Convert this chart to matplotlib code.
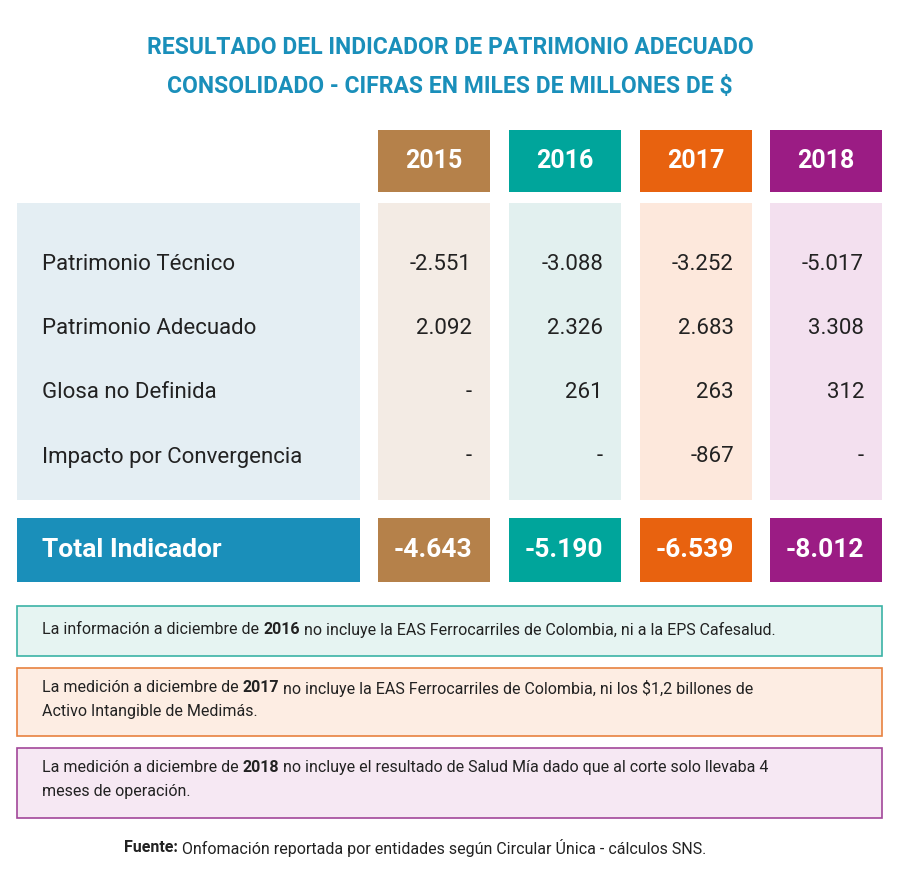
import matplotlib.pyplot as plt
from matplotlib.patches import Rectangle

plt.rcParams['font.family'] = ['Roboto', 'DejaVu Sans']

title_lines = ["RESULTADO DEL INDICADOR DE PATRIMONIO ADECUADO",
               "CONSOLIDADO - CIFRAS EN MILES DE MILLONES DE $"]
years = ["2015", "2016", "2017", "2018"]
row_labels = ["Patrimonio Técnico", "Patrimonio Adecuado", "Glosa no Definida",
              "Impacto por Convergencia"]
values = [["-2.551", "-3.088", "-3.252", "-5.017"],
          ["2.092", "2.326", "2.683", "3.308"],
          ["-", "261", "263", "312"],
          ["-", "-", "-867", "-"]]
totals = ["-4.643", "-5.190", "-6.539", "-8.012"]
notes = [
    [("La información a diciembre de ", False), ("2016", True),
     (" no incluye la EAS Ferrocarriles de Colombia, ni a la EPS Cafesalud.", False)],
    [("La medición a diciembre de ", False), ("2017", True),
     (" no incluye la EAS Ferrocarriles de Colombia, ni los $1,2 billones de", False),
     ("\nActivo Intangible de Medimás.", False)],
    [("La medición a diciembre de ", False), ("2018", True),
     (" no incluye el resultado de Salud Mía dado que al corte solo llevaba 4", False),
     ("\nmeses de operación.", False)],
]

col_colors = ["#b5814a", "#00a59b", "#e8620f", "#9b1c84"]
col_tints = ["#f3ebe4", "#e2f0ef", "#fde8dc", "#f3e0ef"]
note_edges = ["#3bb3a6", "#e8823f", "#a2479a"]
note_fills = ["#e6f4f2", "#fdede3", "#f6e8f3"]
blue = "#1a8fba"

fig = plt.figure(figsize=(9, 8.76), dpi=100)
ax = fig.add_axes([0, 0, 1, 1])
ax.set_xlim(0, 900)
ax.set_ylim(876, 0)
ax.axis('off')

for i, line in enumerate(title_lines):
    ax.text(450, 47 + 40 * i, line, ha='center', va='center', color=blue,
            fontsize=16.5, fontweight='bold')

col_x = [378, 509, 640, 770]
cw = 112
ax.add_patch(Rectangle((17, 203), 343, 297, color="#e4eef3", lw=0))
for j, x in enumerate(col_x):
    ax.add_patch(Rectangle((x, 130), cw, 62, color=col_colors[j], lw=0))
    ax.text(x + cw / 2, 161, years[j], ha='center', va='center', color='white',
            fontsize=18, fontweight='bold')
    ax.add_patch(Rectangle((x, 203), cw, 297, color=col_tints[j], lw=0))
    ax.add_patch(Rectangle((x, 518), cw, 64, color=col_colors[j], lw=0))
    ax.text(x + cw - 18, 550, totals[j], ha='right', va='center', color='white',
            fontsize=19, fontweight='bold')

row_y = [264, 328, 393, 457]
for i, lab in enumerate(row_labels):
    ax.text(42, row_y[i], lab, ha='left', va='center', color='#222222', fontsize=16)
    for j, x in enumerate(col_x):
        ax.text(x + cw - 18, row_y[i], values[i][j], ha='right', va='center',
                color='#222222', fontsize=16)

ax.add_patch(Rectangle((17, 518), 343, 64, color=blue, lw=0))
ax.text(42, 550, "Total Indicador", ha='left', va='center', color='white',
        fontsize=19, fontweight='bold')

note_box = [(606, 50), (668, 68), (748, 70)]
fig.canvas.draw()
r = fig.canvas.get_renderer()
for k, segs in enumerate(notes):
    y0, h = note_box[k]
    ax.add_patch(Rectangle((17, y0), 865, h, facecolor=note_fills[k],
                           edgecolor=note_edges[k], lw=1.2))
    x = 42
    ytop = y0 + 12 if h > 55 else y0 + 16
    for s, bold in segs:
        if s.startswith("\n"):
            s = s[1:]
            x = 42
            ytop += 24
        t = ax.text(x, ytop, s, ha='left', va='top', color='#222222',
                    fontsize=11.5, fontweight='bold' if bold else 'normal')
        bb = t.get_window_extent(r)
        x += bb.width

t = ax.text(124, 848, "Fuente:", ha='left', va='center', color='#222222',
            fontsize=11.5, fontweight='bold')
bb = t.get_window_extent(r)
ax.text(124 + bb.width + 4, 848, "Onfomación reportada por entidades según Circular Única - cálculos SNS.",
        ha='left', va='center', color='#222222', fontsize=11.5)

fig.savefig("out.png", dpi=100, facecolor='white')
